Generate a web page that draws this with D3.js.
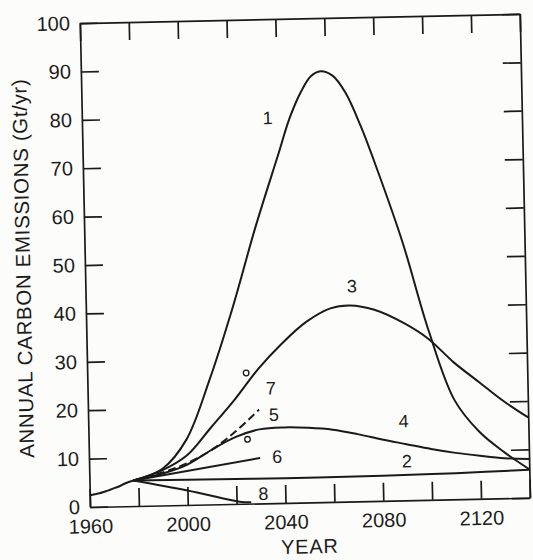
<!DOCTYPE html>
<html>
<head>
<meta charset="utf-8">
<script src="https://cdn.jsdelivr.net/npm/d3@7"></script>
<style>
  html, body { margin: 0; padding: 0; background: #fcfcfa; }
  svg { display: block; }
  text { font-family: "Liberation Sans", Arial, Helvetica, sans-serif; fill: #1c1c1c; }
</style>
</head>
<body>
<svg id="chart" width="533" height="560"></svg>
<script>
// ---------- data ----------
const histYears  = [1960, 1962, 1964, 1966, 1968, 1970, 1972, 1974, 1976, 1978];
const histValues = [2.4, 2.6, 2.8, 3.1, 3.4, 3.8, 4.1, 4.6, 5.0, 5.3];

const s1Years  = [1978, 1990, 2000, 2010, 2020, 2030, 2040, 2045, 2050, 2054, 2058, 2063, 2068, 2074, 2080, 2090, 2100, 2110, 2120, 2130, 2140];
const s1Values = [5.3, 7.6, 13.5, 25.8, 40.5, 57, 72, 79.5, 85, 88, 89, 88, 84.5, 77.5, 69, 53.5, 35, 20.5, 13.8, 9.5, 5.9];

const s2Years  = [1978, 2000, 2040, 2080, 2110, 2140];
const s2Values = [5.3, 5.2, 5.1, 5.2, 5.4, 5.8];

const s3Years  = [1978, 1990, 2000, 2010, 2020, 2030, 2040, 2050, 2060, 2068, 2078, 2090, 2100, 2110, 2120, 2130, 2140];
const s3Values = [5.3, 7.3, 10.2, 15.8, 21.5, 27.8, 33, 37.3, 40, 40.5, 39.5, 36.6, 33.2, 28.3, 24.2, 20.1, 16.6];

const s4Years  = [1978, 1990, 2000, 2010, 2020, 2030, 2040, 2050, 2060, 2070, 2080, 2090, 2100, 2110, 2120, 2130, 2140];
const s4Values = [5.3, 6.6, 8.3, 11.2, 13.8, 15.3, 15.6, 15.4, 14.9, 13.9, 12.7, 11.6, 10.5, 9.6, 8.9, 8.3, 8.0];

const s5Years  = [1978, 1990, 2000, 2010, 2020, 2030];
const s5Values = [5.3, 6.8, 8.6, 11.2, 14.9, 19.4];

const s6Years  = [1978, 2030];
const s6Values = [5.3, 9.4];

const s8Years  = [1978, 2000, 2022, 2026];
const s8Values = [5.3, 3.0, 0.4, 0.3];

const pointYears  = [2025, 2025];
const pointValues = [27, 13.3];

const labelTexts  = ["1", "2", "3", "4", "5", "6", "7", "8"];
const labelYears  = [2036, 2090, 2069, 2089, 2036, 2037, 2035, 2031];
const labelValues = [79.6, 8.1, 44.5, 16.4, 18.3, 9.6, 23.8, 2.0];

const yTickValues = [0, 10, 20, 30, 40, 50, 60, 70, 80, 90, 100];
const xTickValues = [1960, 1980, 2000, 2020, 2040, 2060, 2080, 2100, 2120, 2140];
const xTickLabels = [1960, 2000, 2040, 2080, 2120];

const yTitle = "ANNUAL CARBON EMISSIONS (Gt/yr)";
const xTitle = "YEAR";

// ---------- layout ----------
const left = 90, bottom = 507, plotW = 440, plotH = 484;
const svg = d3.select("#chart");
const g = svg.append("g").attr("transform", `rotate(-1.2, ${left}, ${bottom})`);

const x = d3.scaleLinear().domain([1960, 2140]).range([left, left + plotW]);
const y = d3.scaleLinear().domain([0, 100]).range([bottom, bottom - plotH]);

const ink = "#1a1a1a";
const tickLen = 18;

function styleAxis(sel) {
  sel.selectAll("path.domain").attr("stroke", ink).attr("stroke-width", 1.7);
  sel.selectAll(".tick line").attr("stroke", ink).attr("stroke-width", 1.7);
  sel.selectAll("text").attr("font-size", 20).attr("fill", "#1c1c1c")
     .attr("font-family", "'Liberation Sans', Arial, sans-serif");
}

g.append("g").attr("transform", `translate(${left},0)`)
  .call(d3.axisLeft(y).tickValues(yTickValues).tickSizeInner(-tickLen).tickSizeOuter(0).tickPadding(10))
  .call(styleAxis);

g.append("g").attr("transform", `translate(${left + plotW},0)`)
  .call(d3.axisRight(y).tickValues(yTickValues).tickSizeInner(-tickLen).tickSizeOuter(0).tickFormat(""))
  .call(styleAxis);

g.append("g").attr("transform", `translate(0,${bottom})`)
  .call(d3.axisBottom(x).tickValues(xTickValues).tickSizeInner(-tickLen).tickSizeOuter(0).tickPadding(12)
        .tickFormat(d => xTickLabels.includes(d) ? String(d) : ""))
  .call(styleAxis);

g.append("g").attr("transform", `translate(0,${bottom - plotH})`)
  .call(d3.axisTop(x).tickValues(xTickValues).tickSizeInner(-tickLen).tickSizeOuter(0).tickFormat(""))
  .call(styleAxis);

// axis titles
g.append("text")
  .attr("transform", `translate(${left - 62},${y(49.6)}) rotate(-90)`)
  .attr("text-anchor", "middle").attr("dy", "0.35em")
  .attr("font-size", 20.5).attr("letter-spacing", 0.65)
  .text(yTitle);

g.append("text")
  .attr("x", x(2049.6)).attr("y", bottom + 51)
  .attr("text-anchor", "middle")
  .attr("font-size", 20).attr("letter-spacing", 0.8)
  .text(xTitle);

// ---------- curves ----------
const line = d3.line().x(d => x(d[0])).y(d => y(d[1])).curve(d3.curveCatmullRom.alpha(0.5));
const zip = (a, b) => a.map((v, i) => [v, b[i]]);

const series = [
  { yrs: histYears, vals: histValues, dash: null },
  { yrs: s1Years, vals: s1Values, dash: null },
  { yrs: s2Years, vals: s2Values, dash: null },
  { yrs: s3Years, vals: s3Values, dash: null },
  { yrs: s4Years, vals: s4Values, dash: null },
  { yrs: s6Years, vals: s6Values, dash: null },
  { yrs: s8Years, vals: s8Values, dash: null },
  { yrs: s5Years, vals: s5Values, dash: "8,4" }
];

g.append("g").selectAll("path").data(series).join("path")
  .attr("d", s => line(zip(s.yrs, s.vals)))
  .attr("fill", "none")
  .attr("stroke", ink)
  .attr("stroke-width", 2)
  .attr("stroke-dasharray", s => s.dash);

g.append("g").selectAll("circle").data(zip(pointYears, pointValues)).join("circle")
  .attr("cx", d => x(d[0])).attr("cy", d => y(d[1])).attr("r", 2.8)
  .attr("fill", "none").attr("stroke", ink).attr("stroke-width", 1.3);

g.append("g").selectAll("text").data(labelTexts).join("text")
  .attr("x", (d, i) => x(labelYears[i]))
  .attr("y", (d, i) => y(labelValues[i]))
  .attr("dy", "0.35em")
  .attr("text-anchor", "middle")
  .attr("font-size", 18)
  .text(d => d);
</script>
</body>
</html>
